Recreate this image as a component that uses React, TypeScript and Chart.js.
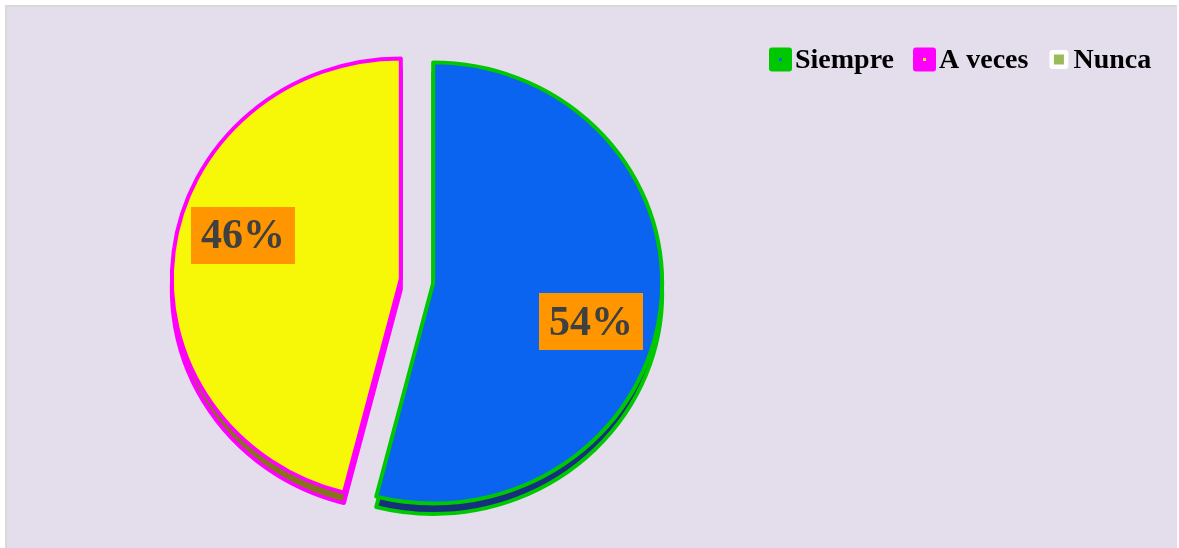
import React, { useEffect, useRef } from 'react';
import { Chart, registerables } from 'chart.js';

Chart.register(...registerables);

// ---- data ----
const categories = ['Siempre', 'A veces', 'Nunca'];
const values = [54, 46, 0];
const percentLabels = ['54%', '46%', '0%'];
const fillColors = ['#0A64F0', '#F7F708', '#9BBB59'];
const borderColors = ['#00C800', '#FF00FF', '#FFFFFF'];
const sideColors = ['#16307E', '#857418', '#5E7A2E'];

// ---- style constants ----
const W = 1179;
const H = 548;
const RADIUS = 229;
const EXPLODE = 16.3;
const SCALE_Y = 0.963;
const DEPTH = 10.9;
const LABEL_ROT = (8 * Math.PI) / 180;
const LABEL_DIST = 0.714;

const pieCenterY = (chart: any) => (chart.chartArea.top + chart.chartArea.bottom) / 2;

const explodePlugin = {
  id: 'explode3d',
  afterDatasetUpdate(chart: any, args: any) {
    const meta = args.meta;
    meta.data.forEach((el: any) => {
      const mid = (el.startAngle + el.endAngle) / 2;
      el.x += Math.cos(mid) * EXPLODE;
      el.y += Math.sin(mid) * EXPLODE;
    });
  },
  beforeDatasetsDraw(chart: any) {
    const ctx = chart.ctx;
    const cx = (chart.chartArea.left + chart.chartArea.right) / 2;
    const cy = pieCenterY(chart);
    ctx.save();
    ctx.translate(cx, cy);
    ctx.scale(1, SCALE_Y);
    ctx.translate(-cx, -cy);
    const meta = chart.getDatasetMeta(0);
    meta.data.forEach((el: any, i: number) => {
      if (el.endAngle - el.startAngle <= 0) return;
      ctx.beginPath();
      ctx.moveTo(el.x, el.y + DEPTH);
      ctx.arc(el.x, el.y + DEPTH, el.outerRadius, el.startAngle, el.endAngle);
      ctx.closePath();
      ctx.fillStyle = sideColors[i];
      ctx.fill();
      ctx.lineWidth = 4;
      ctx.lineJoin = 'round';
      ctx.strokeStyle = borderColors[i];
      ctx.stroke();
    });
  },
  afterDatasetsDraw(chart: any) {
    chart.ctx.restore();
  },
  afterDraw(chart: any) {
    const ctx = chart.ctx;
    const cy = pieCenterY(chart);
    const meta = chart.getDatasetMeta(0);
    // value labels
    ctx.save();
    ctx.font = 'bold 42px "Liberation Serif", "Times New Roman", serif';
    ctx.textAlign = 'center';
    ctx.textBaseline = 'middle';
    meta.data.forEach((el: any, i: number) => {
      if (el.endAngle - el.startAngle <= 0) return;
      const a = (el.startAngle + el.endAngle) / 2 + LABEL_ROT;
      const lx = el.x + Math.cos(a) * el.outerRadius * LABEL_DIST;
      const ly0 = el.y + Math.sin(a) * el.outerRadius * LABEL_DIST;
      const ly = cy + (ly0 - cy) * SCALE_Y - 2.5;
      const txt = percentLabels[i];
      const tw = ctx.measureText(txt).width;
      const bw = tw + 20;
      const bh = 57;
      ctx.fillStyle = '#FF9600';
      ctx.fillRect(Math.round(lx - bw / 2), Math.round(ly - bh / 2), Math.round(bw), bh);
      ctx.fillStyle = '#404040';
      ctx.fillText(txt, lx, ly + 2);
    });
    ctx.restore();

    // legend
    ctx.save();
    ctx.font = 'bold 28px "Liberation Serif", "Times New Roman", serif';
    ctx.textAlign = 'left';
    ctx.textBaseline = 'alphabetic';
    let x = 769;
    const midY = 59.5;
    const labels = chart.data.labels as string[];
    labels.forEach((lab: string, i: number) => {
      const slotW = 23;
      const small = values[i] === 0;
      const bw = small ? 19 : 23;
      const bh = small ? 19 : 24;
      const bx = x + (slotW - bw) / 2;
      const by = midY - bh / 2;
      ctx.fillStyle = borderColors[i];
      ctx.beginPath();
      (ctx as any).roundRect ? (ctx as any).roundRect(bx, by, bw, bh, 3) : ctx.rect(bx, by, bw, bh);
      ctx.fill();
      const inner = small ? 10 : 3;
      ctx.fillStyle = fillColors[i];
      ctx.fillRect(bx + (bw - inner) / 2, by + (bh - inner) / 2, inner, inner);
      ctx.fillStyle = '#000000';
      const tx = x + slotW + 3;
      ctx.fillText(lab, tx, 68);
      x = tx + ctx.measureText(lab).width + 19;
    });
    ctx.restore();
  },
};

export default function App() {
  const ref = useRef<HTMLCanvasElement | null>(null);

  useEffect(() => {
    if (!ref.current) return;
    const chart = new Chart(ref.current, {
      type: 'pie',
      data: {
        labels: categories,
        datasets: [
          {
            data: values,
            backgroundColor: fillColors,
            borderColor: borderColors,
            borderWidth: 4,
            borderJoinStyle: 'round',
          } as any,
        ],
      },
      options: {
        responsive: false,
        animation: false,
        events: [],
        radius: RADIUS,
        layout: { padding: { left: 0, right: 345, top: 14, bottom: 0 } },
        plugins: {
          legend: { display: false },
          tooltip: { enabled: false },
        },
      } as any,
      plugins: [explodePlugin],
    });
    return () => chart.destroy();
  }, []);

  return (
    <div style={{ position: 'absolute', left: 0, top: 0, width: W, height: H, background: '#FFFFFF', overflow: 'hidden' }}>
      <div
        style={{
          position: 'absolute',
          left: 5,
          top: 5,
          width: 1172,
          height: 543,
          boxSizing: 'border-box',
          background: '#E4DEEC',
          borderTop: '2px solid #D9D9D9',
          borderLeft: '2px solid #D9D9D9',
        }}
      />
      <canvas ref={ref} width={W} height={H} style={{ position: 'absolute', left: 0, top: 0, width: W, height: H }} />
    </div>
  );
}
